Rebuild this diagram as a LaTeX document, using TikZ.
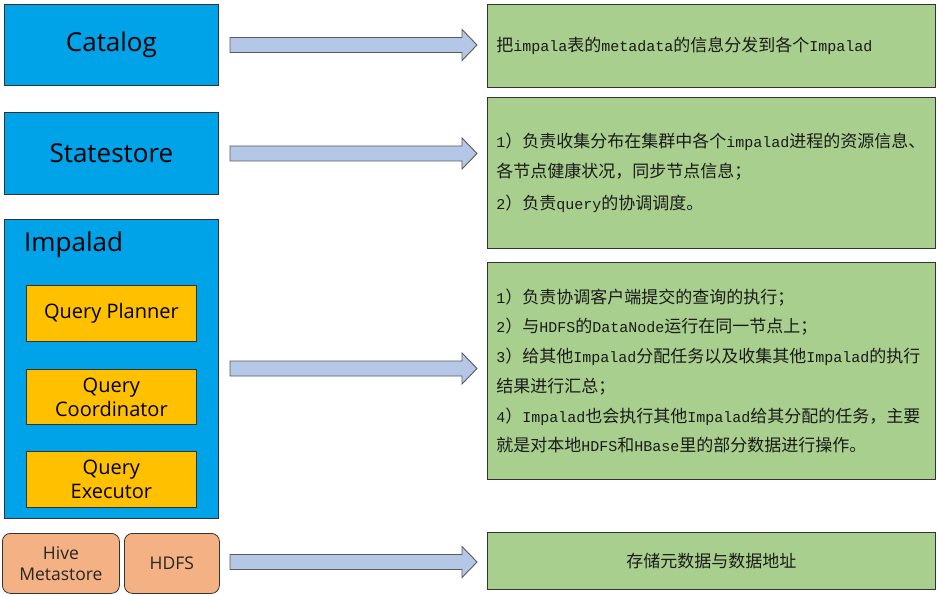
\documentclass[tikz,border=0pt]{standalone}
\usepackage{fontspec}
\setmainfont{Open Sans}
\newfontfamily\cjk{Noto Sans CJK SC}
\newfontfamily\monof{Liberation Mono}
\newcommand\mn[1]{{\monof\fontsize{15}{29}\selectfont #1}}
\definecolor{compblue}{HTML}{00A2E8}
\definecolor{subor}{HTML}{FFC000}
\definecolor{peach}{HTML}{F4B183}
\definecolor{descgreen}{HTML}{A9CF8E}
\definecolor{arrfill}{HTML}{B4C7E7}
\definecolor{arrline}{HTML}{5A5A5A}
\definecolor{boxline}{HTML}{333333}
\definecolor{desctext}{HTML}{1A1A1A}
\newcommand\blockarr[1]{\draw[barrow] (230,#1-7.5) -- (462,#1-7.5) -- (462,#1-15.5) -- (477,#1) -- (462,#1+15.5) -- (462,#1+7.5) -- (230,#1+7.5) -- cycle;}
\begin{document}
\begin{tikzpicture}[x=1pt,y=-1pt,
  bluebox/.style={draw=boxline, fill=compblue, line width=0.8pt, inner sep=0pt, anchor=north west, text=black, font=\fontsize{26}{30}\selectfont},
  querybox/.style={draw=boxline, fill=subor, line width=0.8pt, inner sep=0pt, anchor=north west, text=black, align=center, minimum width=170, minimum height=56, font=\fontsize{20}{24}\selectfont},
  storebox/.style={draw=boxline, fill=peach, line width=0.8pt, rounded corners=8pt, inner sep=0pt, anchor=north west, text=black!85, align=center, minimum height=60, font=\fontsize{17.5}{21}\selectfont},
  descbox/.style={draw=boxline, fill=descgreen, line width=0.8pt, anchor=north west, minimum width=448, text=desctext, inner xsep=9pt, inner ysep=0pt, font=\cjk\fontsize{17}{29.7}\selectfont},
  barrow/.style={draw=arrline, fill=arrfill, line width=0.9pt, line join=miter}]
\fill[white] (0,0) rectangle (937,596);
\useasboundingbox (0,0) rectangle (937,596);

% left column
\node[bluebox, minimum width=214, minimum height=81] (catalog) at (4,4) {Catalog};
\node[bluebox, minimum width=214, minimum height=82] (statestore) at (4,112) {Statestore};
\node[bluebox, minimum width=214, minimum height=299] (impalad) at (4,219) {};
\node[anchor=west, inner sep=0pt, font=\fontsize{26}{30}\selectfont, text=black] (impaladtitle) at (24,245) {Impalad};
\node[querybox] (planner) at (26,285) {Query Planner};
\node[querybox, minimum height=55] (coord) at (26,369) {Query\\Coordinator};
\node[querybox] (executor) at (26,451) {Query\\Executor};
\node[storebox, minimum width=117] (hive) at (2,533) {Hive\\Metastore};
\node[storebox, minimum width=95] (hdfs) at (124,533) {HDFS};

% block arrows
\blockarr{45}
\blockarr{153.5}
\blockarr{368.5}
\blockarr{562}

% right column
\node[descbox, minimum height=83, text width=430, align=left] (desc1) at (487,4)
  {把\mn{impala}表的\mn{metadata}的信息分发到各个\mn{Impalad}};
\node[descbox, minimum height=151, text width=430, align=left] (desc2) at (487,97)
  {\mn{1}）负责收集分布在集群中各个\mn{impalad}进程的资源信息、\\
   各节点健康状况，同步节点信息；\\[3pt]
   \mn{2}）负责\mn{query}的协调调度。};
\node[descbox, minimum height=217, text width=430, align=left] (desc3) at (487,262)
  {\mn{1}）负责协调客户端提交的查询的执行；\\
   \mn{2}）与\mn{HDFS}的\mn{DataNode}运行在同一节点上；\\
   \mn{3}）给其他\mn{Impalad}分配任务以及收集其他\mn{Impalad}的执行\\
   结果进行汇总；\\
   \mn{4}）\mn{Impalad}也会执行其他\mn{Impalad}给其分配的任务，主要\\
   就是对本地\mn{HDFS}和\mn{HBase}里的部分数据进行操作。};
\node[descbox, minimum height=57, text width=430, align=center] (desc4) at (487,532)
  {存储元数据与数据地址};
\end{tikzpicture}
\end{document}
